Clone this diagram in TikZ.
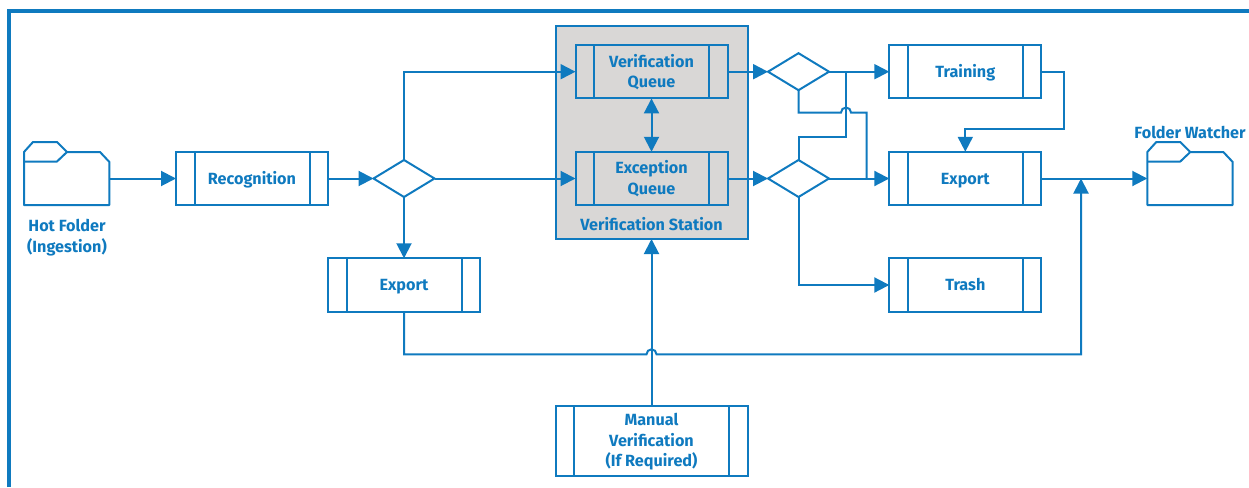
\documentclass[tikz,border=0pt]{standalone}
\usepackage{fontspec}
\setmainfont{Fira Sans}
\usetikzlibrary{shapes, calc, arrows.meta}

\definecolor{flowblue}{HTML}{0F7ABF}
\definecolor{stationgray}{HTML}{D9D7D6}
\newcommand{\toppad}{\rule{0pt}{14pt}}

\tikzset{
	every node/.style={text=flowblue, font=\bfseries\fontsize{16.2}{20.5}\selectfont, align=center, inner sep=0pt, outer sep=0pt},
	line/.style={draw=flowblue, line width=2pt},
	flow/.style={line, -{Triangle[length=15pt, width=15pt]}},
	twoway/.style={line, {Triangle[length=15pt, width=15pt]}-{Triangle[length=15pt, width=15pt]}},
	procbox/.style={line, minimum width=152pt, minimum height=53.5pt,
		path picture={
			\draw[line] ([xshift=18.5pt]path picture bounding box.north west) -- ([xshift=18.5pt]path picture bounding box.south west);
			\draw[line] ([xshift=-18.5pt]path picture bounding box.north east) -- ([xshift=-18.5pt]path picture bounding box.south east);
		}},
	oneline/.style={text height=11.4pt, text depth=0pt},
	choice/.style={line, diamond, aspect=1.65, minimum width=61pt, minimum height=37pt, fill=white},
	foldbox/.style={minimum width=85.5pt, minimum height=53pt},
	folder/.pic={
		\draw[line, line join=round] (-42.7,26.5) -- (-42.7,-26.5) -- (-33.7,-36.5) -- (-9.7,-36.5) -- (0.3,-26.5) -- (33.3,-26.5) -- (42.7,-16.5) -- (42.7,26.5) -- cycle;
		\draw[line, line join=round] (-42.7,-17) -- (-9.7,-17) -- (0.3,-26.5);
	}
}

\begin{document}
\begin{tikzpicture}[x=1pt, y=-1pt]
	\useasboundingbox (0,0) rectangle (1249,487);
	\draw[draw=flowblue, line width=4pt] (9.3,487) -- (9.3,11) -- (1249,11);

	\node[line, fill=stationgray, minimum width=192pt, minimum height=213pt] (station) at (651.5,132.5) {};
	\node (stationlabel) at (651.5,224.5) {Verification Station};

	\node[foldbox] (hot) at (66.7,178.5) {};
	\pic at (hot.center) {folder};
	\node (hotlabel) at (67,237.5) {Hot Folder\\(Ingestion)};

	\node[foldbox] (watcher) at (1190,178.5) {};
	\pic at (watcher.center) {folder};
	\node (watcherlabel) at (1190,132.5) {Folder Watcher};

	\node[procbox, oneline] (recognition) at (252,178.5) {Recognition};
	\node[procbox, oneline] (exportleft) at (404,285) {Export};
	\node[procbox] (verif) at (651.5,71.7) {\toppad Verification\\Queue};
	\node[procbox] (except) at (651.5,178.5) {Exception\\Queue};
	\node[procbox, oneline] (training) at (965.3,71.7) {Training};
	\node[procbox, oneline] (exportright) at (965.3,178.5) {Export};
	\node[procbox, oneline] (trash) at (965.3,285) {Trash};
	\node[procbox, minimum width=192pt, minimum height=70pt] (manual) at (651.5,441) {\toppad Manual\\Verification\\(If Required)};

	\node[choice] (gate) at (404,178.5) {};
	\node[choice] (gateup) at (798.5,71.7) {};
	\node[choice] (gatedown) at (798.5,178.5) {};

	\coordinate (jumpup) at (846,112.5);
	\coordinate (jumplow) at (651.5,354.3);
	\coordinate (joinright) at (866.7,178.5);
	\coordinate (joinout) at (1081,178.5);
	\coordinate (riseleft) at (846,71.7);
	\coordinate (elbow) at (1064,129);

	\draw[flow] (hot.east) -- (recognition.west);
	\draw[flow] (recognition.east) -- (gate.west);
	\draw[flow] (gate.east) -- (except.west);
	\draw[flow] (gate.north) |- (verif.west);
	\draw[flow] (gate.south) -- (exportleft.north);
	\draw[flow] (verif.east) -- (gateup.west);
	\draw[flow] (except.east) -- (gatedown.west);
	\draw[twoway] (verif.south) -- (except.north);
	\draw[flow] (manual.north) -- (station.south);
	\draw[flow] (gateup.east) -- (training.west);
	\draw[flow] (gatedown.east) -- (exportright.west);
	\draw[flow] (gatedown.south) |- (trash.west);
	\draw[line] (gatedown.north) |- (846,137) -- (riseleft);
	\draw[line] (gateup.south) |- ([xshift=-5pt]jumpup) arc[start angle=180, end angle=0, radius=5pt] -| (joinright);
	\draw[flow] (training.east) -| (elbow) -| (exportright.north);
	\draw[flow] (exportright.east) -- (watcher.west);
	\draw[flow] (exportleft.south) |- ([xshift=-5pt]jumplow) arc[start angle=180, end angle=0, radius=5pt] -| (joinout);
\end{tikzpicture}
\end{document}
